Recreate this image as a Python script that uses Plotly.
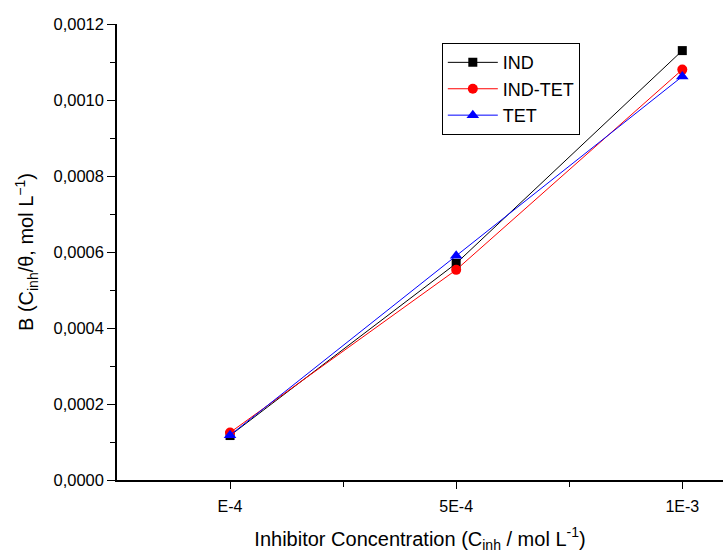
import plotly.graph_objects as go

categories = ["E-4", "5E-4", "1E-3"]
ind = [0.000117, 0.000570, 0.001130]
ind_tet = [0.000125, 0.000553, 0.001080]
tet = [0.000118, 0.000590, 0.001062]

yticks = [0.0000, 0.0002, 0.0004, 0.0006, 0.0008, 0.0010, 0.0012]
yminor = [0.0001, 0.0003, 0.0005, 0.0007, 0.0009, 0.0011]
xpos = list(range(len(categories)))
xminor = [0.5, 1.5]

FONT = "Liberation Sans, Arial, sans-serif"

fig = go.Figure()
fig.add_trace(go.Scatter(x=xpos, y=ind, name="IND", mode="lines+markers",
                         line=dict(color="black", width=1),
                         marker=dict(symbol="square", size=9, color="black")))
fig.add_trace(go.Scatter(x=xpos, y=ind_tet, name="IND-TET", mode="lines+markers",
                         line=dict(color="red", width=1),
                         marker=dict(symbol="circle", size=10, color="red")))
fig.add_trace(go.Scatter(x=xpos, y=tet, name="TET", mode="lines+markers",
                         line=dict(color="blue", width=1),
                         marker=dict(symbol="triangle-up", size=11, color="blue")))

fig.update_layout(
    width=723, height=553,
    margin=dict(l=117, r=0, t=24, b=73),
    paper_bgcolor="white", plot_bgcolor="white",
    separators=",.",
    font=dict(family=FONT, color="black", size=16),
    showlegend=True,
    legend=dict(x=0.536, y=0.958, xanchor="left", yanchor="top",
                bordercolor="black", borderwidth=1, bgcolor="white",
                font=dict(size=18, family=FONT), itemwidth=50,
                tracegroupgap=0),
    xaxis=dict(range=[-0.5, 2.18], tickvals=xpos, ticktext=categories,
               showgrid=False, zeroline=False, showline=True, linecolor="black",
               linewidth=1.5, ticks="outside", ticklen=7, tickwidth=1.2,
               tickcolor="black", tickfont=dict(size=16), ticklabelstandoff=4,
               minor=dict(tickvals=xminor, ticks="outside", ticklen=5,
                          tickcolor="black", tickwidth=1.2),
               title=dict(text="Inhibitor Concentration (C<sub>inh</sub> / mol L<sup>-1</sup>)",
                          font=dict(size=20), standoff=18)),
    yaxis=dict(range=[0, 0.0012], tickvals=yticks, tickformat=".4f",
               showgrid=False, zeroline=False, showline=True, linecolor="black",
               linewidth=1.5, ticks="outside", ticklen=8, tickwidth=1.2,
               tickcolor="black", tickfont=dict(size=16.5),
               minor=dict(tickvals=yminor, ticks="outside", ticklen=5,
                          tickcolor="black", tickwidth=1.2),
               title=dict(text="B (C<sub>inh</sub>/θ, mol L<sup>−1</sup>)",
                          font=dict(size=20), standoff=14)),
    xaxis2=dict(overlaying="x", side="top", matches="x", range=[-0.5, 2.18],
                tickvals=xpos, showticklabels=False, ticks="inside", ticklen=8,
                tickwidth=1.2, tickcolor="black", showline=True, linecolor="black",
                linewidth=1.5, showgrid=False, zeroline=False),
    yaxis2=dict(overlaying="y", side="right", matches="y", range=[0, 0.0012],
                tickvals=yticks, showticklabels=False, ticks="inside", ticklen=5,
                tickwidth=1.2, tickcolor="black", showline=False,
                showgrid=False, zeroline=False),
)

fig.write_html("out.html")
